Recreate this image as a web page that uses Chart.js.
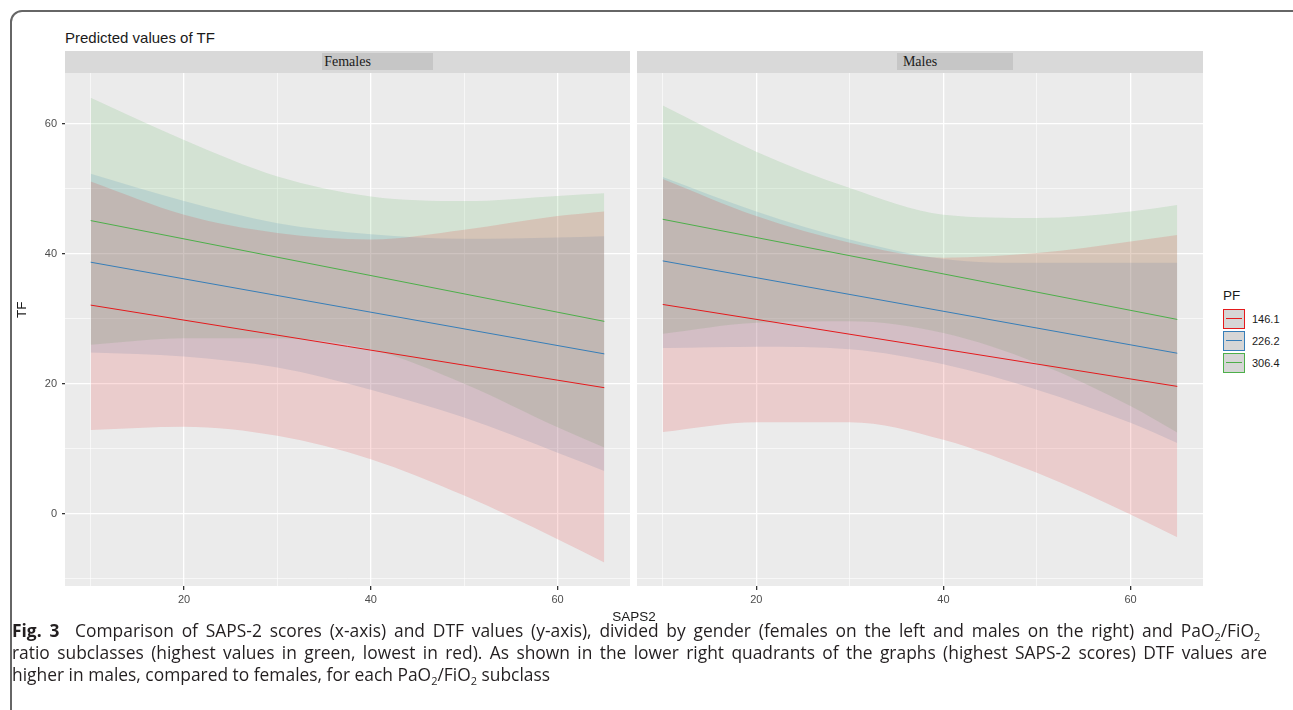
<!DOCTYPE html>
<html>
<head>
<meta charset="utf-8">
<script src="https://cdn.jsdelivr.net/npm/chart.js@4"></script>
<style>
  body { margin: 0; background: #fff; width: 1293px; height: 710px; overflow: hidden; position: relative; font-family: 'Liberation Sans', Arial, sans-serif; }
  .abs { position: absolute; }
  #frame { left: 10px; top: 10px; width: 1300px; height: 720px; border: 2px solid #666; border-radius: 12px; box-sizing: border-box; }
  #title { left: 65px; top: 30px; font-size: 15px; line-height: 1; color: #1a1a1a; }
  .strip { top: 51px; height: 22px; background: #d9d9d9; }
  .stripBox { top: 53px; height: 17px; background: #c6c6c6; }
  .stripText { top: 51px; height: 22px; line-height: 22px; font-family: 'Liberation Serif', serif; font-size: 14px; color: #1a1a1a; text-align: center; }
  #ytitle { left: 15px; top: 318px; font-size: 13.5px; color: #1a1a1a; transform: rotate(-90deg); transform-origin: left top; line-height: 1; }
  #xtitle { left: 0; width: 1268px; top: 610px; font-size: 13.5px; color: #1a1a1a; text-align: center; line-height: 1; }
  #legend { left: 1223px; top: 289px; color: #1a1a1a; }
  .key { position: absolute; left: 0; width: 20px; height: 18px; background: #d6d6d6; border: 1px solid; }
  .key i { position: absolute; left: 2px; right: 2px; top: 8px; height: 1px; }
  .klab { position: absolute; left: 29px; font-size: 11px; line-height: 1; }
  .cap { left: 12px; font-family: 'Open Sans', sans-serif; font-size: 17.4px; color: #231f20; white-space: nowrap; line-height: 1; }
  .cap sub { font-size: 11px; vertical-align: -4px; line-height: 0; }
</style>
</head>
<body>
<div id="frame" class="abs"></div>
<div id="title" class="abs">Predicted values of TF</div>

<div class="abs strip" style="left:65px;width:565px"></div>
<div class="abs stripBox" style="left:322px;width:111px"></div>
<div class="abs stripText" style="left:65px;width:565px">Females</div>
<div class="abs strip" style="left:637px;width:566px"></div>
<div class="abs stripBox" style="left:897px;width:116px"></div>
<div class="abs stripText" style="left:637px;width:566px">Males</div>

<canvas id="chartF" class="abs" width="640" height="537" style="left:0;top:73px"></canvas>
<canvas id="chartM" class="abs" width="566" height="537" style="left:637px;top:73px"></canvas>

<div id="ytitle" class="abs">TF</div>
<div id="xtitle" class="abs">SAPS2</div>

<div id="legend" class="abs">
  <div style="font-size:13.5px;line-height:1">PF</div>
  <div id="keys"></div>
</div>

<div class="abs cap" data-w="1245" style="top:622px"><b>Fig. 3</b>&nbsp; Comparison of SAPS-2 scores (x-axis) and DTF values (y-axis), divided by gender (females on the left and males on the right) and PaO<sub>2</sub>/FiO<sub>2</sub></div>
<div class="abs cap" data-w="1255" style="top:644px">ratio subclasses (highest values in green, lowest in red). As shown in the lower right quadrants of the graphs (highest SAPS-2 scores) DTF values are</div>
<div class="abs cap" style="top:666px">higher in males, compared to females, for each PaO<sub>2</sub>/FiO<sub>2</sub> subclass</div>

<script>
// SAPS2 positions where the confidence bands were read
const xs = [10, 20, 30, 40, 50, 60, 65];
const lineX = [10, 65];

const pfLevels = ['146.1', '226.2', '306.4'];
const pfColors = ['#E41A1C', '#377EB8', '#4DAF4A'];
const pfFills = ['rgba(228,26,28,0.15)', 'rgba(55,126,184,0.15)', 'rgba(77,175,74,0.15)'];

// Females
const redLowF   = [12.9, 13.4, 12.0, 8.4, 2.8, -3.9, -7.5];
const redUpF    = [51.1, 46.0, 43.2, 42.2, 43.7, 45.8, 46.5];
const blueLowF  = [24.8, 24.2, 22.5, 19.1, 14.8, 9.4, 6.6];
const blueUpF   = [52.3, 48.1, 44.7, 43.0, 42.3, 42.5, 42.7];
const greenLowF = [26.0, 27.0, 27.0, 25.3, 20.0, 13.3, 10.2];
const greenUpF  = [64.0, 57.5, 51.9, 48.8, 48.1, 48.9, 49.3];
const redFitF   = [32.1, 19.4];
const blueFitF  = [38.7, 24.6];
const greenFitF = [45.1, 29.6];

// Males
const redLowM   = [12.6, 14.1, 14.1, 11.4, 6.3, -0.1, -3.6];
const redUpM    = [51.5, 45.8, 41.7, 39.4, 40.1, 41.9, 42.9];
const blueLowM  = [25.5, 25.7, 25.3, 23.0, 19.1, 14.0, 10.9];
const blueUpM   = [51.8, 46.5, 42.2, 39.2, 38.6, 38.6, 38.6];
const greenLowM = [27.7, 29.4, 29.6, 27.8, 23.2, 16.6, 12.5];
const greenUpM  = [62.8, 55.7, 50.1, 46.0, 45.5, 46.5, 47.5];
const redFitM   = [32.2, 19.6];
const blueFitM  = [38.9, 24.7];
const greenFitM = [45.3, 29.9];

const xTicks = [10, 20, 30, 40, 50, 60];
const yTicks = [-10, 0, 10, 20, 30, 40, 50, 60];
const xMajor = [20, 40, 60];
const yMajor = [0, 20, 40, 60];

Chart.defaults.font.family = "'Liberation Sans', Arial, sans-serif";

const panelBg = {
    id: 'panelBg',
    beforeDraw(chart) {
        const a = chart.chartArea;
        const ctx = chart.ctx;
        ctx.save();
        ctx.fillStyle = '#ebebeb';
        ctx.fillRect(a.left, a.top, a.right - a.left, a.bottom - a.top);
        ctx.restore();
    }
};

function pts(xv, yv) {
    return xv.map((x, i) => ({ x: x, y: yv[i] }));
}

function buildDatasets(bands, fits) {
    const sets = [];
    fits.forEach((f, i) => {
        sets.push({
            data: pts(lineX, f),
            borderColor: pfColors[i],
            borderWidth: 1,
            pointRadius: 0,
            fill: false
        });
    });
    bands.forEach((b, i) => {
        sets.push({
            data: pts(xs, b[0]),
            borderWidth: 0,
            pointRadius: 0,
            cubicInterpolationMode: 'monotone',
            fill: false
        });
        sets.push({
            data: pts(xs, b[1]),
            borderWidth: 0,
            pointRadius: 0,
            cubicInterpolationMode: 'monotone',
            backgroundColor: pfFills[i],
            fill: '-1'
        });
    });
    return sets;
}

function getOptions(showY) {
    return {
        responsive: false,
        animation: false,
        layout: { padding: { left: 0, right: showY ? 10 : 0, top: 0, bottom: 0 } },
        plugins: { legend: { display: false }, tooltip: { enabled: false } },
        scales: {
            x: {
                type: 'linear',
                min: 7.25,
                max: 67.75,
                afterBuildTicks: s => { s.ticks = xTicks.map(v => ({ value: v })); },
                afterFit: s => { s.height = 24; s.paddingLeft = 0; s.paddingRight = 0; },
                border: { display: false },
                grid: {
                    color: '#ffffff',
                    lineWidth: c => xMajor.includes(c.tick && c.tick.value) ? 1.3 : 0.6,
                    tickColor: c => xMajor.includes(c.tick && c.tick.value) ? '#333333' : 'rgba(0,0,0,0)',
                    tickLength: 4
                },
                ticks: {
                    autoSkip: false,
                    maxRotation: 0,
                    padding: 3,
                    color: '#4d4d4d',
                    font: { size: 11 },
                    callback: v => xMajor.includes(v) ? String(v) : ''
                }
            },
            y: {
                type: 'linear',
                min: -11.1,
                max: 67.8,
                afterBuildTicks: s => { s.ticks = yTicks.map(v => ({ value: v })); },
                afterFit: s => { s.width = showY ? 65 : 0; s.paddingTop = 0; s.paddingBottom = 0; },
                border: { display: false },
                grid: {
                    color: '#ffffff',
                    lineWidth: c => yMajor.includes(c.tick && c.tick.value) ? 1.3 : 0.6,
                    tickColor: c => yMajor.includes(c.tick && c.tick.value) ? '#333333' : 'rgba(0,0,0,0)',
                    tickLength: 3,
                    drawTicks: showY
                },
                ticks: {
                    display: showY,
                    autoSkip: false,
                    padding: 5,
                    color: '#4d4d4d',
                    font: { size: 11 },
                    callback: v => yMajor.includes(v) ? String(v) : ''
                }
            }
        }
    };
}

new Chart(document.getElementById('chartF'), {
    type: 'line',
    data: {
        datasets: buildDatasets(
            [[redLowF, redUpF], [blueLowF, blueUpF], [greenLowF, greenUpF]],
            [redFitF, blueFitF, greenFitF])
    },
    options: getOptions(true),
    plugins: [panelBg]
});

new Chart(document.getElementById('chartM'), {
    type: 'line',
    data: {
        datasets: buildDatasets(
            [[redLowM, redUpM], [blueLowM, blueUpM], [greenLowM, greenUpM]],
            [redFitM, blueFitM, greenFitM])
    },
    options: getOptions(false),
    plugins: [panelBg]
});

// legend keys
const keys = document.getElementById('keys');
pfLevels.forEach((lab, i) => {
    const top = 20 + i * 22;
    keys.insertAdjacentHTML('beforeend',
        `<div class="key" style="top:${top}px;border-color:${pfColors[i]}"><i style="background:${pfColors[i]}"></i></div>` +
        `<div class="klab" style="top:${top + 5}px">${lab}</div>`);
});

// stretch the justified caption lines to their width
document.querySelectorAll('.cap[data-w]').forEach(el => {
    const target = parseFloat(el.dataset.w);
    const spaces = (el.textContent.match(/ /g) || []).length;
    const extra = (target - el.getBoundingClientRect().width) / spaces;
    el.style.wordSpacing = extra + 'px';
});
</script>
</body>
</html>
